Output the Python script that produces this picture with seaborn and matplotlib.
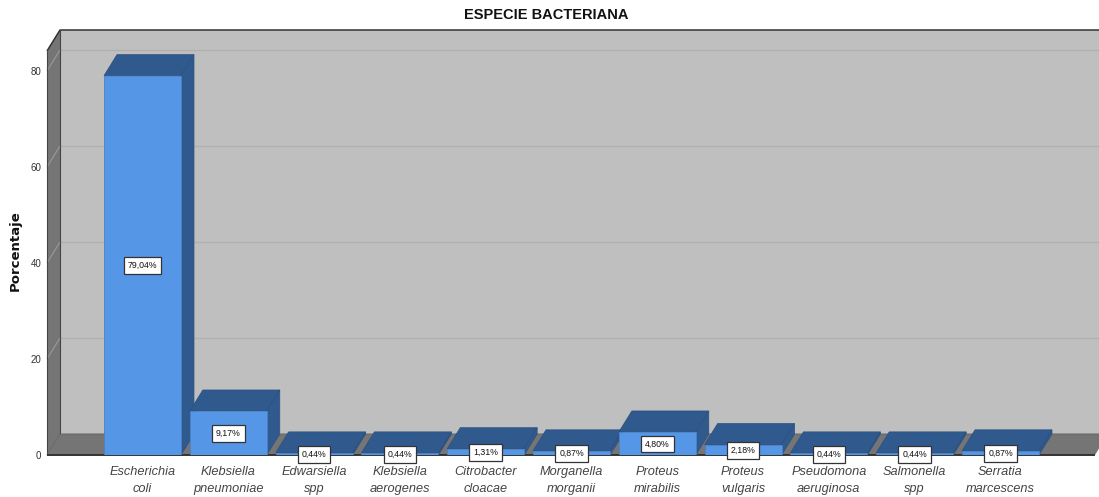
import matplotlib
matplotlib.use("Agg")
import matplotlib.pyplot as plt
from matplotlib.patches import Polygon
import pandas as pd
import seaborn as sns

species = ["Escherichia\ncoli", "Klebsiella\npneumoniae", "Edwarsiella\nspp", "Klebsiella\naerogenes",
           "Citrobacter\ncloacae", "Morganella\nmorganii", "Proteus\nmirabilis", "Proteus\nvulgaris",
           "Pseudomona\naeruginosa", "Salmonella\nspp", "Serratia\nmarcescens"]
percent = [79.04, 9.17, 0.44, 0.44, 1.31, 0.87, 4.80, 2.18, 0.44, 0.44, 0.87]
y_ticks = [0, 20, 40, 60, 80]

W, H = 1099, 497
NARROW = ["Liberation Sans", "DejaVu Sans"]
sns.set_theme(style="white")
plt.rcParams["font.family"] = NARROW

fig = plt.figure(figsize=(W / 100, H / 100), dpi=100, facecolor="white")
L, R, T, B = 47, 1095, 51, 455
ax = fig.add_axes([L / W, 1 - B / H, (R - L) / W, (B - T) / H])
df = pd.DataFrame({"especie": species, "porcentaje": percent})
BAR_W = 0.897
sns.barplot(data=df, x="especie", y="porcentaje", color="#5596E6", saturation=1, width=BAR_W,
            ax=ax, zorder=5, edgecolor="#4A82C8", linewidth=0.6)

px_x = 85.8
px_y = 4.8
x0 = (L - 142.5) / px_x
x1 = (R - 142.5) / px_x
y1 = (B - T) / px_y
dx = 13 / px_x
dy = 21 / px_y
ax.set_xlim(x0, x1)
ax.set_ylim(0, y1)
ax.patch.set_alpha(0)
for s in ax.spines.values():
    s.set_visible(False)

WALL = "#757575"
BACK = "#BFBFBF"
DARK = "#305A8E"


def poly(pts, color, z, edge="none", lw=0):
    ax.add_patch(Polygon(pts, closed=True, facecolor=color, edgecolor=edge, linewidth=lw, zorder=z, clip_on=False))


poly([(x0 + dx, dy), (x1 + dx, dy), (x1 + dx, y1 + dy), (x0 + dx, y1 + dy)], BACK, 1)
poly([(x0, 0), (x0 + dx, dy), (x0 + dx, y1 + dy), (x0, y1)], WALL, 1)
poly([(x0, 0), (x1, 0), (x1 + dx, dy), (x0 + dx, dy)], WALL, 1)

line = dict(clip_on=False, solid_capstyle="butt")
for t in y_ticks[1:]:
    ax.plot([x0 + dx, x1 + dx], [t + dy, t + dy], color="#B0B0B0", lw=1, zorder=2, **line)
    ax.plot([x0, x0 + dx], [t, t + dy], color="#999999", lw=0.8, zorder=2, **line)
ax.plot([x0, x0 + dx, x1 + dx], [y1, y1 + dy, y1 + dy], color="#333333", lw=1.1, zorder=3, **line)
ax.plot([x0 + dx, x0 + dx], [dy, y1 + dy], color="#444444", lw=0.8, zorder=3, **line)
ax.plot([x0, x0], [0, y1], color="#444444", lw=0.8, zorder=3, **line)
ax.plot([x0, x0 + dx, x1 + dx], [0, dy, dy], color="#666666", lw=0.7, zorder=3, **line)
ax.plot([x0, x1], [0, 0], color="#333333", lw=1.4, zorder=4, **line)

hw = BAR_W / 2
for i, v in enumerate(percent):
    z = 4.0 + i * 0.01
    poly([(i - hw, v), (i + hw, v), (i + hw + dx, v + dy), (i - hw + dx, v + dy)], DARK, z, "#2A5080", 0.5)
    poly([(i + hw, 0), (i + hw + dx, dy), (i + hw + dx, v + dy), (i + hw, v)], DARK, z, "#2A5080", 0.5)
for i, v in enumerate(percent):
    ax.text(i, v / 2 - 0.1, f"{v:.2f}%".replace(".", ","), ha="center", va="center", fontsize=6.3, color="#111111",
            zorder=8, clip_on=False,
            bbox=dict(boxstyle="square,pad=0.45", facecolor="white", edgecolor="#333333", linewidth=0.9))

ax.set_yticks(y_ticks)
ax.set_yticklabels([str(t) for t in y_ticks], fontsize=7, color="#333333")
ax.tick_params(axis="y", length=0, pad=4)
ax.tick_params(axis="x", length=0, pad=8)
ax.set_xticks(range(len(species)))
ax.set_xticklabels(species, fontsize=9.2, style="italic", color="#444444", linespacing=1.5)
ax.set_xlabel("")
ax.set_ylabel("Porcentaje", fontsize=9.5, fontweight="bold", family="DejaVu Sans", color="#111111")
ax.yaxis.set_label_coords((22 - L) / (R - L), (B - 251) / (B - T))
fig.text(546 / W, 1 - 15 / H, "ESPECIE BACTERIANA", ha="center", va="center", fontsize=10.5, fontweight="bold",
         color="#111111")

fig.savefig("out.png", dpi=100, facecolor="white")
